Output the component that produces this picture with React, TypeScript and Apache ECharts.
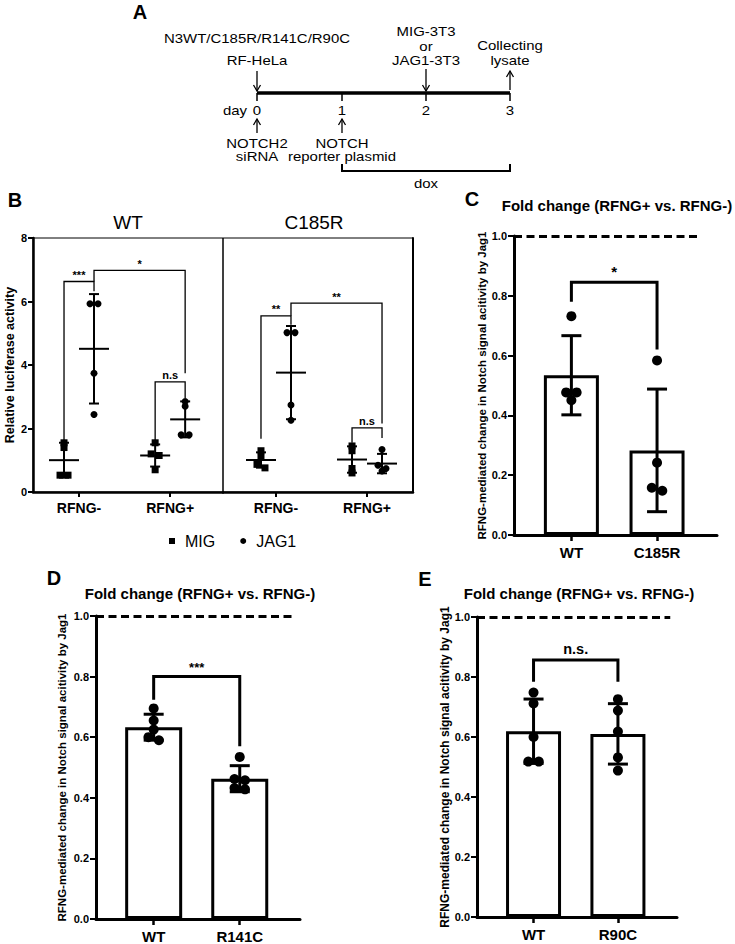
import React, { useEffect, useRef } from "react";
import * as echarts from "echarts";

const FONT = '"Liberation Sans", Arial, Helvetica, sans-serif';
const fnt = (size: number, weight: string = "normal") => `${weight} ${size}px ${FONT}`;

// ---------------- Panel B data ----------------
const B_GROUPS = ["WT", "C185R"];
const B_CATEGORIES = ["RFNG-", "RFNG+"];
const B_Y_MAX = 8;
const B_Y_INTERVAL = 2;
const B_WT_MIG = [[1.55, 1.4, 0.53, 0.53], [1.55, 1.2, 1.15, 0.7]];
const B_WT_JAG1 = [[5.93, 5.93, 3.74, 2.44], [2.85, 2.7, 1.8, 1.8]];
const B_C185R_MIG = [[1.3, 1.1, 0.87, 0.76], [1.45, 1.3, 0.74, 0.6]];
const B_C185R_JAG1 = [[5.02, 5.02, 2.74, 2.26], [1.34, 0.84, 0.74, 0.66]];
// [fromCategory, fromSide, toCategory, toSide, barY, leftLegEnd, rightLegEnd]
const B_WT_BRACKETS = [
  [1, -1, 1, 1, 6.63, 1.63, 6.32],
  [1, 1, 2, 1, 6.98, 6.63, 3.74],
  [2, -1, 2, 1, 3.47, 1.63, 2.95],
];
const B_WT_BRACKET_LABELS = ["***", "*", "n.s"];
const B_C185R_BRACKETS = [
  [1, -1, 1, 1, 5.55, 1.68, 5.27],
  [1, 1, 2, 1, 5.95, 5.55, 2.16],
  [2, -1, 2, 1, 2.02, 1.55, 1.7],
];
const B_C185R_BRACKET_LABELS = ["**", "**", "n.s"];

// ---------------- Panels C, D, E data ----------------
const FOLD_TITLE = "Fold change (RFNG+ vs. RFNG-)";
const FOLD_Y_NAME = "RFNG-mediated change in Notch signal acitivity by Jag1";
const C_CATEGORIES = ["WT", "C185R"];
const C_VALUES = [[0.732, 0.477, 0.477, 0.451], [0.584, 0.242, 0.158, 0.148]];
const C_BRACKET = [1, 0, 2, 0, 0.845, 0.78, 0.62];
const C_BRACKET_LABEL = "*";
const D_CATEGORIES = ["WT", "R141C"];
const D_VALUES = [[0.695, 0.655, 0.625, 0.6, 0.59], [0.535, 0.462, 0.458, 0.432, 0.428]];
const D_BRACKET = [1, 0, 2, 0, 0.8, 0.724, 0.57];
const D_BRACKET_LABEL = "***";
const E_CATEGORIES = ["WT", "R90C"];
const E_VALUES = [[0.748, 0.712, 0.6, 0.518, 0.518], [0.726, 0.688, 0.618, 0.532, 0.488]];
const E_BRACKET = [1, 0, 2, 0, 0.857, 0.784, 0.784];
const E_BRACKET_LABEL = "n.s.";
const REFERENCE_VALUE = 1.0;

// ---------------- helpers ----------------
const mean = (a: number[]) => a.reduce((s, v) => s + v, 0) / a.length;
const sd = (a: number[]) => {
  const m = mean(a);
  return Math.sqrt(a.reduce((s, v) => s + (v - m) * (v - m), 0) / (a.length - 1));
};
function dodge(vals: number[], thr: number, spacing: number) {
  const idx = vals.map((_, i) => i).sort((a, b) => vals[b] - vals[a]);
  const offs = new Array(vals.length).fill(0);
  let i = 0;
  while (i < idx.length) {
    let j = i + 1;
    while (j < idx.length && vals[idx[i]] - vals[idx[j]] < thr) j++;
    const n = j - i;
    for (let k = 0; k < n; k++) offs[idx[i + k]] = (k - (n - 1) / 2) * spacing;
    i = j;
  }
  return offs;
}

const B_SIDE = 15;

function bracketRender(labels: string[], sideOff: number, lw: number, labelFont: string, labelGap: number) {
  return (params: any, api: any) => {
    const x1 = api.value(0), s1 = api.value(1), x2 = api.value(2), s2 = api.value(3);
    const y = api.value(4), yl = api.value(5), yr = api.value(6);
    const p1 = api.coord([x1, y]);
    const p2 = api.coord([x2, y]);
    const l = api.coord([x1, yl]);
    const r = api.coord([x2, yr]);
    const ax = p1[0] + s1 * sideOff;
    const bx = p2[0] + s2 * sideOff;
    return {
      type: "group",
      children: [
        {
          type: "polyline",
          shape: { points: [[ax, l[1]], [ax, p1[1]], [bx, p1[1]], [bx, r[1]]] },
          style: { stroke: "#000", lineWidth: lw, fill: null },
        },
        {
          type: "text",
          style: {
            text: labels[params.dataIndex],
            x: (ax + bx) / 2,
            y: p1[1] - labelGap,
            font: labelFont,
            fill: "#000",
            align: "center",
            textAlign: "center",
            verticalAlign: "bottom",
            textVerticalAlign: "bottom",
          },
        },
      ],
    };
  };
}

function bErrRender(params: any, api: any) {
  const x = api.value(0), side = api.value(1), m = api.value(2), s = api.value(3);
  const c = api.coord([x, m]);
  const top = api.coord([x, m + s]);
  const bot = api.coord([x, m - s]);
  const cx = c[0] + side * B_SIDE;
  const st = { stroke: "#000", lineWidth: 2 };
  return {
    type: "group",
    children: [
      { type: "line", shape: { x1: cx, y1: top[1], x2: cx, y2: bot[1] }, style: st },
      { type: "line", shape: { x1: cx - 5, y1: top[1], x2: cx + 5, y2: top[1] }, style: st },
      { type: "line", shape: { x1: cx - 5, y1: bot[1], x2: cx + 5, y2: bot[1] }, style: st },
      { type: "line", shape: { x1: cx - 15, y1: c[1], x2: cx + 15, y2: c[1] }, style: st },
    ],
  };
}

function foldErrRender(params: any, api: any) {
  const x = api.value(0), m = api.value(1), s = api.value(2);
  const top = api.coord([x, m + s]);
  const bot = api.coord([x, m - s]);
  const cx = top[0];
  const st = { stroke: "#000", lineWidth: 3 };
  return {
    type: "group",
    children: [
      { type: "line", shape: { x1: cx, y1: top[1], x2: cx, y2: bot[1] }, style: st },
      { type: "line", shape: { x1: cx - 10, y1: top[1], x2: cx + 10, y2: top[1] }, style: st },
      { type: "line", shape: { x1: cx - 10, y1: bot[1], x2: cx + 10, y2: bot[1] }, style: st },
    ],
  };
}

function bScatter(name: string, groups: number[][], side: number, g: number, symbol: string) {
  const data: any[] = [];
  groups.forEach((vals, ci) => {
    const offs = dodge(vals, 0.12, 8);
    vals.forEach((v, i) => data.push({ value: [ci + 1, v], symbolOffset: [side * B_SIDE + offs[i], 0] }));
  });
  return {
    type: "scatter", name, xAxisIndex: g, yAxisIndex: g, symbol, symbolSize: 7,
    itemStyle: { color: "#000", opacity: 1 }, data, z: 6,
  };
}
function bErrors(name: string, groups: number[][], side: number, g: number) {
  return {
    type: "custom", name, xAxisIndex: g, yAxisIndex: g, renderItem: bErrRender, encode: { x: 0, y: 2 },
    itemStyle: { color: "#000" },
    data: groups.map((v, ci) => [ci + 1, side, mean(v), sd(v)]), z: 5,
  };
}

const FOLD_X_MIN = 0.33;
const FOLD_X_MAX = 2.7;

function foldSeries(g: number, values: number[][], bracket: number[], label: string, labelFont: string, dashEnd: number, barW: number) {
  const pts: any[] = [];
  values.forEach((vals, ci) => {
    const offs = dodge(vals, 0.02, 10.5);
    vals.forEach((v, i) => pts.push({ value: [ci + 1, v], symbolOffset: [offs[i], 0] }));
  });
  return [
    {
      type: "bar", xAxisIndex: g, yAxisIndex: g, barWidth: barW,
      data: values.map((v, ci) => [ci + 1, mean(v)]),
      itemStyle: { color: "#fff", borderColor: "#000", borderWidth: 3 },
      z: 2,
      markLine: {
        silent: true, symbol: ["none", "none"], label: { show: false },
        lineStyle: { color: "#000", width: 3, type: [8, 4.5] },
        data: [[{ coord: [FOLD_X_MIN, REFERENCE_VALUE] }, { coord: [dashEnd, REFERENCE_VALUE] }]],
      },
    },
    {
      type: "custom", xAxisIndex: g, yAxisIndex: g, renderItem: foldErrRender, encode: { x: 0, y: 1 },
      data: values.map((v, ci) => [ci + 1, mean(v), sd(v)]), z: 4,
    },
    {
      type: "scatter", xAxisIndex: g, yAxisIndex: g, symbol: "circle", symbolSize: 10,
      itemStyle: { color: "#000", opacity: 1 }, data: pts, z: 5,
    },
    {
      type: "custom", xAxisIndex: g, yAxisIndex: g, renderItem: bracketRender([label], 0, 3, labelFont, 3),
      encode: { x: 0, y: 4 }, data: [bracket], z: 6,
    },
  ];
}

function foldXAxis(g: number, cats: string[]) {
  return {
    type: "value", gridIndex: g, min: FOLD_X_MIN, max: FOLD_X_MAX,
    axisLine: { show: true, onZero: false, lineStyle: { color: "#000", width: 3 } },
    axisTick: { show: true, customValues: [1, 2], length: 6, lineStyle: { color: "#000", width: 2.5 } },
    axisLabel: {
      customValues: [1, 2], formatter: (v: number) => cats[Math.round(v) - 1] || "",
      margin: 10, color: "#000", fontSize: 15, fontWeight: "bold", fontFamily: FONT,
    },
    splitLine: { show: false },
  };
}
function foldYAxis(g: number, nameGap: number, nameSize: number) {
  return {
    type: "value", gridIndex: g, min: 0, max: 1, interval: 0.2,
    name: FOLD_Y_NAME, nameLocation: "middle", nameGap,
    nameTextStyle: { color: "#000", fontSize: nameSize, fontWeight: "bold", fontFamily: FONT },
    axisLine: { show: true, onZero: false, lineStyle: { color: "#000", width: 3 } },
    axisTick: { show: true, length: 6, lineStyle: { color: "#000", width: 2 } },
    axisLabel: {
      formatter: (v: number) => v.toFixed(1), margin: 7, color: "#000",
      fontSize: 11, fontWeight: "bold", fontFamily: FONT,
    },
    splitLine: { show: false },
  };
}

function bXAxis(g: number, min: number, max: number) {
  return {
    type: "value", gridIndex: g, min, max,
    axisLine: { show: true, onZero: false, lineStyle: { color: "#000", width: 2.5 } },
    axisTick: { show: true, customValues: [1, 2], length: 5, lineStyle: { color: "#000", width: 2 } },
    axisLabel: {
      customValues: [1, 2], formatter: (v: number) => B_CATEGORIES[Math.round(v) - 1] || "",
      margin: 9, color: "#000", fontSize: 14, fontWeight: "bold", fontFamily: FONT,
    },
    splitLine: { show: false },
  };
}

// ---------------- Panel A diagram helpers ----------------
function txt(x: number, y: number, text: string, font: string, scaleX: number = 1) {
  return {
    type: "text", x, y, scaleX,
    style: { text, font, fill: "#000", align: "center", textAlign: "center", verticalAlign: "middle", textVerticalAlign: "middle" },
    silent: true,
  };
}
function arrow(x: number, y1: number, y2: number) {
  const dir = y2 > y1 ? 1 : -1;
  return [
    { type: "line", shape: { x1: x, y1, x2: x, y2 }, style: { stroke: "#000", lineWidth: 1.3 }, silent: true },
    {
      type: "polyline",
      shape: { points: [[x - 3.5, y2 - dir * 6], [x, y2], [x + 3.5, y2 - dir * 6]] },
      style: { stroke: "#000", lineWidth: 1.3, fill: null }, silent: true,
    },
  ];
}

const DAY_LABELS = ["0", "1", "2", "3"];

export default function App() {
  const ref = useRef<HTMLDivElement>(null);
  useEffect(() => {
    if (!ref.current) return;
    const chart = echarts.init(ref.current, null, { renderer: "svg" });

    const A_FONT = fnt(13);
    const AS = 1.15;
    const dayX = [257, 342, 426, 510];
    const graphicEls: any[] = [
      // panel letters
      txt(140, 12, "A", fnt(20, "bold")),
      txt(15, 200, "B", fnt(20, "bold")),
      txt(472, 199, "C", fnt(20, "bold")),
      txt(54, 578, "D", fnt(20, "bold")),
      txt(425, 579, "E", fnt(20, "bold")),
      // A diagram
      txt(257, 38, "N3WT/C185R/R141C/R90C", A_FONT, AS),
      txt(257, 60, "RF-HeLa", A_FONT, AS),
      ...arrow(257, 71, 91),
      txt(426, 31, "MIG-3T3", A_FONT, AS),
      txt(426, 46, "or", A_FONT, AS),
      txt(426, 60, "JAG1-3T3", A_FONT, AS),
      ...arrow(426, 69, 91),
      txt(510, 45, "Collecting", A_FONT, AS),
      txt(510, 60, "lysate", A_FONT, AS),
      ...arrow(510, 90, 71),
      { type: "line", shape: { x1: 257, y1: 93, x2: 510, y2: 93 }, style: { stroke: "#000", lineWidth: 3.5 }, silent: true },
      ...dayX.map((x) => ({ type: "line", shape: { x1: x, y1: 93, x2: x, y2: 101 }, style: { stroke: "#000", lineWidth: 1.5 }, silent: true })),
      txt(235, 110, "day", A_FONT, AS),
      ...dayX.map((x, i) => txt(x, 110, DAY_LABELS[i], A_FONT, AS)),
      ...arrow(257, 133, 119),
      ...arrow(342, 133, 119),
      txt(257, 143, "NOTCH2", A_FONT, AS),
      txt(257, 156, "siRNA", A_FONT, AS),
      txt(342, 143, "NOTCH", A_FONT, AS),
      txt(342, 156, "reporter plasmid", A_FONT, AS),
      {
        type: "polyline", shape: { points: [[342, 164], [342, 171], [510, 171], [510, 164]] },
        style: { stroke: "#000", lineWidth: 2, fill: null }, silent: true,
      },
      txt(426, 183, "dox", A_FONT, AS),
      // B headers
      txt(128, 222, B_GROUPS[0], fnt(19)),
      txt(314, 222, B_GROUPS[1], fnt(19)),
      // C/D/E titles
      txt(617, 205, FOLD_TITLE, fnt(15, "bold")),
      txt(200, 593, FOLD_TITLE, fnt(15, "bold")),
      txt(579, 593, FOLD_TITLE, fnt(15, "bold")),
    ];

    const option: any = {
      animation: false,
      backgroundColor: "#fff",
      color: ["#000"],
      textStyle: { fontFamily: FONT },
      legend: {
        left: 164, top: 528, itemWidth: 6, itemHeight: 6, itemGap: 25, selectedMode: false,
        textStyle: { fontSize: 16, color: "#000", fontFamily: FONT, padding: [0, 0, 0, 5] },
        data: [{ name: "MIG", icon: "rect" }, { name: "JAG1", icon: "circle" }],
      },
      grid: [
        { left: 33, top: 238, width: 190, height: 254, show: true, borderColor: "#000", borderWidth: 1, backgroundColor: "transparent" },
        { left: 223, top: 238, width: 190, height: 254, show: true, borderColor: "#000", borderWidth: 1, backgroundColor: "transparent" },
        { left: 514, top: 236, width: 203, height: 299 },
        { left: 96, top: 616, width: 204, height: 304 },
        { left: 477, top: 617, width: 200, height: 300 },
      ],
      xAxis: [
        bXAxis(0, 0.495, 2.58),
        bXAxis(1, 0.418, 2.505),
        foldXAxis(2, C_CATEGORIES),
        foldXAxis(3, D_CATEGORIES),
        foldXAxis(4, E_CATEGORIES),
      ],
      yAxis: [
        {
          type: "value", gridIndex: 0, min: 0, max: B_Y_MAX, interval: B_Y_INTERVAL,
          name: "Relative luciferase activity", nameLocation: "middle", nameGap: 10,
          nameTextStyle: { color: "#000", fontSize: 12.5, fontWeight: "bold", fontFamily: FONT },
          axisLine: { show: true, onZero: false, lineStyle: { color: "#000", width: 2.5 } },
          axisTick: { show: true, length: 5, lineStyle: { color: "#000", width: 2 } },
          axisLabel: { margin: 6, color: "#000", fontSize: 11, fontWeight: "bold", fontFamily: FONT },
          splitLine: { show: false },
        },
        {
          type: "value", gridIndex: 1, min: 0, max: B_Y_MAX, interval: B_Y_INTERVAL, position: "right",
          axisLine: { show: true, onZero: false, lineStyle: { color: "#000", width: 2 } },
          axisTick: { show: false }, axisLabel: { show: false }, splitLine: { show: false },
        },
        foldYAxis(2, 26, 11.5),
        foldYAxis(3, 28, 11.5),
        foldYAxis(4, 26, 12),
      ],
      series: [
        bScatter("MIG", B_WT_MIG, -1, 0, "rect"),
        bScatter("JAG1", B_WT_JAG1, 1, 0, "circle"),
        bErrors("MIG", B_WT_MIG, -1, 0),
        bErrors("JAG1", B_WT_JAG1, 1, 0),
        {
          type: "custom", xAxisIndex: 0, yAxisIndex: 0, encode: { x: 0, y: 4 },
          renderItem: bracketRender(B_WT_BRACKET_LABELS, B_SIDE, 1.3, fnt(11, "bold"), 1),
          data: B_WT_BRACKETS, z: 7,
        },
        bScatter("MIG", B_C185R_MIG, -1, 1, "rect"),
        bScatter("JAG1", B_C185R_JAG1, 1, 1, "circle"),
        bErrors("MIG", B_C185R_MIG, -1, 1),
        bErrors("JAG1", B_C185R_JAG1, 1, 1),
        {
          type: "custom", xAxisIndex: 1, yAxisIndex: 1, encode: { x: 0, y: 4 },
          renderItem: bracketRender(B_C185R_BRACKET_LABELS, B_SIDE, 1.3, fnt(11, "bold"), 1),
          data: B_C185R_BRACKETS, z: 7,
        },
        ...foldSeries(2, C_VALUES, C_BRACKET, C_BRACKET_LABEL, fnt(15, "bold"), 2.48, 55),
        ...foldSeries(3, D_VALUES, D_BRACKET, D_BRACKET_LABEL, fnt(13, "bold"), 2.62, 57),
        ...foldSeries(4, E_VALUES, E_BRACKET, E_BRACKET_LABEL, fnt(14.5, "bold"), 2.62, 55),
      ],
      graphic: { elements: graphicEls },
    };
    chart.setOption(option);
    return () => chart.dispose();
  }, []);
  return <div ref={ref} style={{ position: "absolute", left: 0, top: 0, width: 735, height: 944 }} />;
}
